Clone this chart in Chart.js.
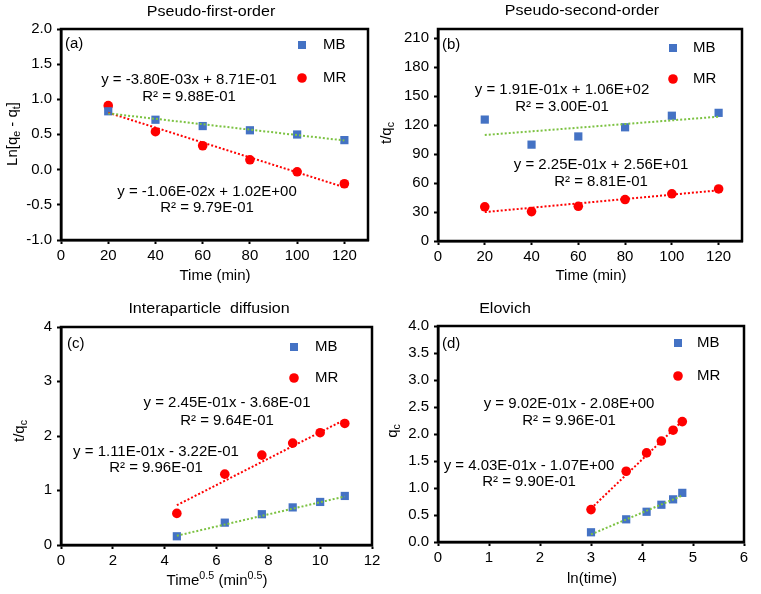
<!DOCTYPE html>
<html><head><meta charset="utf-8">
<script src="https://cdn.jsdelivr.net/npm/chart.js@4"></script>
<style>
html,body{margin:0;padding:0;background:#fff;}
#wrap{position:relative;width:761px;height:594px;overflow:hidden;}
canvas{position:absolute;}
</style></head><body>
<div id="wrap">
<canvas id="ca" width="380" height="294" style="left:0;top:0"></canvas>
<canvas id="cb" width="381" height="294" style="left:380px;top:0"></canvas>
<canvas id="cc" width="380" height="300" style="left:0;top:294px"></canvas>
<canvas id="cd" width="381" height="300" style="left:380px;top:294px"></canvas>
</div>
<script>
// ---------- DATA ----------
const timeMin = [20, 40, 60, 80, 100, 120];
const sqrtTime = [4.47, 6.32, 7.75, 8.94, 10.0, 10.95];
const lnTime = [3.00, 3.69, 4.09, 4.38, 4.61, 4.79];

// (a) Pseudo-first-order
const pfoMB = [0.83, 0.71, 0.62, 0.56, 0.50, 0.42];
const pfoMR = [0.91, 0.54, 0.34, 0.14, -0.03, -0.20];
const pfoTrendX = [20, 120];
const pfoTrendMB = [0.80, 0.415];
const pfoTrendMR = [0.81, -0.25];

// (b) Pseudo-second-order
const psoMB = [126, 100, 108.5, 118, 130, 133];
const psoMR = [35.5, 30.5, 36, 43, 49, 54];
const psoTrendX = [20, 120];
const psoTrendMB = [110, 129];
const psoTrendMR = [30, 52.6];

// (c) Interparticle diffusion
const ipdMB = [0.16, 0.41, 0.565, 0.69, 0.79, 0.90];
const ipdMR = [0.58, 1.30, 1.65, 1.87, 2.06, 2.23];
const ipdTrendX = [4.47, 10.95];
const ipdTrendMB = [0.17, 0.89];
const ipdTrendMR = [0.73, 2.30];

// (d) Elovich
const eloMB = [0.18, 0.42, 0.56, 0.69, 0.79, 0.91];
const eloMR = [0.60, 1.31, 1.65, 1.87, 2.07, 2.23];
const eloTrendX = [3.00, 4.79];
const eloTrendMB = [0.14, 0.86];
const eloTrendMR = [0.62, 2.24];

const seriesNames = ['MB', 'MR'];

// ---------- STYLE ----------
const BLUE = '#4472C4', RED = '#FF0000', GREEN = '#7CC242';
const FONT = '"Liberation Sans", Arial, sans-serif';
const FS = 14;
const FS_SMALL = 10;
const SX = 1.07; // slight horizontal text stretch seen in the reference

function pts(xs, ys){ return xs.map((x,i)=>({x:x, y:ys[i]})); }

function richWidth(ctx, segs, fs){
  let w = 0;
  for (const [t,m] of segs){
    ctx.font = (m ? FS_SMALL : fs) + 'px ' + FONT;
    w += ctx.measureText(t).width;
  }
  return w;
}
function drawRich(ctx, segs, cx, cy, rot, align, fs){
  fs = fs || FS;
  align = align || 'center';
  ctx.save();
  ctx.translate(cx, cy);
  if (rot) ctx.rotate(rot);
  ctx.scale(SX, 1);
  const w = richWidth(ctx, segs, fs);
  let x = align === 'center' ? -w/2 : (align === 'right' ? -w : 0);
  ctx.fillStyle = '#000';
  ctx.textBaseline = 'middle';
  ctx.textAlign = 'left';
  for (const [t,m] of segs){
    ctx.font = (m ? FS_SMALL : fs) + 'px ' + FONT;
    let dy = 0;
    if (m === 'sub') dy = 4;
    if (m === 'sup') dy = -4.5;
    ctx.fillText(t, x, dy);
    x += ctx.measureText(t).width;
  }
  ctx.restore();
}

function makeDecor(o, xfmt, yfmt){
  return {
    id: 'decor',
    afterDraw(chart){
      const ctx = chart.ctx;
      const a = chart.chartArea;
      ctx.save();
      ctx.strokeStyle = '#000';
      ctx.lineWidth = 2.5;
      ctx.strokeRect(a.left, a.top, a.right - a.left, a.bottom - a.top);
      const xs = chart.scales.x, ys = chart.scales.y;
      for (const t of xs.ticks){
        const px = xs.getPixelForValue(t.value);
        drawRich(ctx, [[xfmt(t.value),'']], px, a.bottom + 16.5, 0, 'center');
      }
      for (const t of ys.ticks){
        const py = ys.getPixelForValue(t.value);
        drawRich(ctx, [[yfmt(t.value),'']], a.left - 9, py, 0, 'right');
      }
      drawRich(ctx, [[o.title,'']], o.titlePos[0], o.titlePos[1], 0, 'center', 15);
      drawRich(ctx, [[o.label,'']], o.labelPos[0], o.labelPos[1], 0, 'left');
      const lg = o.legend;
      ctx.fillStyle = BLUE;
      ctx.fillRect(lg[0]-4, lg[1]-4, 8, 8);
      ctx.fillStyle = RED;
      ctx.beginPath(); ctx.arc(lg[0], lg[2], 4.8, 0, Math.PI*2); ctx.fill();
      drawRich(ctx, [[seriesNames[0],'']], lg[3], lg[1], 0, 'left');
      drawRich(ctx, [[seriesNames[1],'']], lg[3], lg[2], 0, 'left');
      for (const e of o.eqs){
        drawRich(ctx, [[e[0],'']], e[1], e[2], 0, 'center');
      }
      drawRich(ctx, o.xTitle, o.xTitlePos[0], o.xTitlePos[1], 0, 'center');
      drawRich(ctx, o.yTitle, o.yTitlePos[0], o.yTitlePos[1], -Math.PI/2, 'center');
      ctx.restore();
    }
  };
}

function makeChart(id, cfg){
  const ctx = document.getElementById(id).getContext('2d');
  const datasets = [
    {data: pts(cfg.tx, cfg.tMB), showLine:true, borderColor:GREEN, borderWidth:2, borderDash:[2,2], pointRadius:0, fill:false},
    {data: pts(cfg.tx, cfg.tMR), showLine:true, borderColor:RED, borderWidth:2, borderDash:[2,2], pointRadius:0, fill:false},
    {data: pts(cfg.x, cfg.mb), pointStyle:'rect', pointRadius:5.8, backgroundColor:BLUE, borderColor:BLUE, borderWidth:0},
    {data: pts(cfg.x, cfg.mr), pointStyle:'circle', pointRadius:4.8, backgroundColor:RED, borderColor:RED, borderWidth:0},
  ];
  const xfmt = cfg.xfmt || (v => String(v));
  const yfmt = cfg.yfmt || (v => String(v));
  const xt = cfg.xt, yt = cfg.yt;
  return new Chart(ctx, {
    type: 'scatter',
    data: {datasets},
    options: {
      responsive:false, animation:false, devicePixelRatio:1,
      layout:{padding:{left:0, top:cfg.pad[0], right:cfg.pad[1], bottom:0}},
      plugins:{legend:{display:false}, tooltip:{enabled:false}},
      scales:{
        x:{
          type:'linear', min:cfg.xr[0], max:cfg.xr[1],
          afterBuildTicks(s){ s.ticks = xt.map(v=>({value:v})); },
          ticks:{display:false},
          grid:{display:true, drawOnChartArea:false, drawTicks:true, tickLength:4, tickWidth:2, tickColor:'#000'},
          border:{display:true, color:'#000', width:2.5},
          afterFit(s){ s.height = cfg.xh; }
        },
        y:{
          type:'linear', min:cfg.yr[0], max:cfg.yr[1],
          afterBuildTicks(s){ s.ticks = yt.map(v=>({value:v})); },
          ticks:{display:false},
          grid:{display:true, drawOnChartArea:false, drawTicks:true, tickLength:4, tickWidth:2, tickColor:'#000'},
          border:{display:true, color:'#000', width:2.5},
          afterFit(s){ s.width = cfg.yw; }
        }
      }
    },
    plugins:[makeDecor(cfg.decor, xfmt, yfmt)]
  });
}

const fmt1 = v => v.toFixed(1);

makeChart('ca', {
  x: timeMin, mb: pfoMB, mr: pfoMR, tx: pfoTrendX, tMB: pfoTrendMB, tMR: pfoTrendMR,
  xr:[0,130], yr:[-1,2], xt:[0,20,40,60,80,100,120], yt:[-1,-0.5,0,0.5,1,1.5,2], yfmt: fmt1,
  pad:[29,12], yw:61, xh:54,
  decor:{title:'Pseudo-first-order', titlePos:[211,12], label:'(a)', labelPos:[65,44],
    legend:[302,45,78,323],
    eqs:[['y = -3.80E-03x + 8.71E-01',189,80],['R² = 9.88E-01',189,97],
         ['y = -1.06E-02x + 1.02E+00',207,192],['R² = 9.79E-01',207,208]],
    xTitle:[['Time (min)','']], xTitlePos:[215,276],
    yTitle:[['Ln[q',''],['e','sub'],[' - q',''],['t','sub'],[']','']], yTitlePos:[13,134]}
});

makeChart('cb', {
  x: timeMin, mb: psoMB, mr: psoMR, tx: psoTrendX, tMB: psoTrendMB, tMR: psoTrendMR,
  xr:[0,130], yr:[0,220], xt:[0,20,40,60,80,100,120], yt:[0,30,60,90,120,150,180,210],
  pad:[29,19], yw:58, xh:53,
  decor:{title:'Pseudo-second-order', titlePos:[202,11], label:'(b)', labelPos:[62,45],
    legend:[293,48,79,313],
    eqs:[['y = 1.91E-01x + 1.06E+02',182,90],['R² = 3.00E-01',182,107],
         ['y = 2.25E-01x + 2.56E+01',221,165],['R² = 8.81E-01',221,182]],
    xTitle:[['Time (min)','']], xTitlePos:[211,276],
    yTitle:[['t/q',''],['c','sub']], yTitlePos:[7,133]}
});

makeChart('cc', {
  x: sqrtTime, mb: ipdMB, mr: ipdMR, tx: ipdTrendX, tMB: ipdTrendMB, tMR: ipdTrendMR,
  xr:[0,12], yr:[0,4], xt:[0,2,4,6,8,10,12], yt:[0,1,2,3,4],
  pad:[33,8], yw:61, xh:49,
  decor:{title:'Interaparticle  diffusion', titlePos:[209,15], label:'(c)', labelPos:[67,50],
    legend:[294,53,84,315],
    eqs:[['y = 2.45E-01x - 3.68E-01',227,109],['R² = 9.64E-01',227,127],
         ['y = 1.11E-01x - 3.22E-01',156,158],['R² = 9.96E-01',156,174]],
    xTitle:[['Time',''],['0.5','sup'],[' (min',''],['0.5','sup'],[')','']], xTitlePos:[217,287],
    yTitle:[['t/q',''],['c','sub']], yTitlePos:[20,137]}
});

makeChart('cd', {
  x: lnTime, mb: eloMB, mr: eloMR, tx: eloTrendX, tMB: eloTrendMB, tMR: eloTrendMR,
  xr:[0,6], yr:[0,4], xt:[0,1,2,3,4,5,6], yt:[0,0.5,1,1.5,2,2.5,3,3.5,4], yfmt: fmt1,
  pad:[32,17], yw:58, xh:52,
  decor:{title:'Elovich', titlePos:[125,15], label:'(d)', labelPos:[62,50],
    legend:[298,49,82,317],
    eqs:[['y = 9.02E-01x - 2.08E+00',189,110],['R² = 9.96E-01',189,127],
         ['y = 4.03E-01x - 1.07E+00',149,172],['R² = 9.90E-01',149,188]],
    xTitle:[['ln(time)','']], xTitlePos:[212,285],
    yTitle:[['q',''],['c','sub']], yTitlePos:[13,137]}
});
</script>
</body></html>
